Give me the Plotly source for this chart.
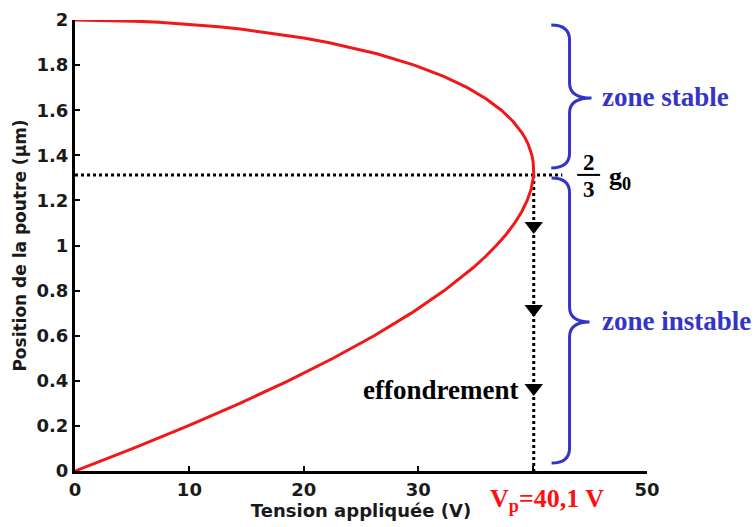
import plotly.graph_objects as go

# Curve: beam position (µm) vs applied voltage (V)
position_um = [0.0, 0.05, 0.1, 0.2, 0.3, 0.4, 0.5, 0.6, 0.7, 0.8, 0.9, 0.95, 1.0, 1.05, 1.1, 1.15,
               1.2, 1.25, 1.28, 1.3, 1.32, 1.35, 1.37, 1.4, 1.42, 1.45, 1.48, 1.5, 1.55, 1.6, 1.65,
               1.7, 1.75, 1.8, 1.85, 1.9, 1.92, 1.95, 1.96, 1.97, 1.98, 1.99, 1.995, 2.0]
voltage_v = [0.0, 2.57, 5.08, 9.88, 14.41, 18.64, 22.56, 26.15, 29.40, 32.28, 34.77, 35.86, 36.83,
             37.70, 38.44, 39.05, 39.53, 39.87, 40.01, 40.06, 40.10, 40.09, 40.05, 39.94, 39.83,
             39.61, 39.31, 39.07, 38.30, 37.27, 35.96, 34.30, 32.23, 29.65, 26.39, 22.13, 20.00,
             16.06, 14.44, 12.57, 10.31, 7.33, 5.20, 0.0]

pull_in_voltage = 40.1
pull_in_position = 1.313
collapse_arrow_positions = [1.087, 0.718, 0.368]

x_tick_vals = [0, 10, 20, 30, 40, 50]
x_tick_text = ["0", "10", "20", "30", " ", "50"]
y_tick_vals = [0, 0.2, 0.4, 0.6, 0.8, 1.0, 1.2, 1.4, 1.6, 1.8, 2.0]
y_tick_text = ["0", "0.2", "0.4", "0.6", "0.8", "1", "1.2", "1.4", "1.6", "1.8", "2"]

SERIF = "Liberation Serif"
SANS = "DejaVu Sans"
BLUE = "#3434c8"

fig = go.Figure()

# dotted horizontal line at 2/3 g0
fig.add_trace(go.Scatter(x=[0, 42.6], y=[pull_in_position, pull_in_position], mode="lines",
                         line=dict(color="black", width=3, dash="3px,3px"),
                         hoverinfo="skip", showlegend=False, cliponaxis=False))
# dotted vertical collapse line
fig.add_trace(go.Scatter(x=[pull_in_voltage, pull_in_voltage], y=[pull_in_position, 0], mode="lines",
                         line=dict(color="black", width=3, dash="3px,3px"),
                         hoverinfo="skip", showlegend=False))
# arrow heads
fig.add_trace(go.Scatter(x=[pull_in_voltage] * len(collapse_arrow_positions), y=collapse_arrow_positions,
                         mode="markers", marker=dict(symbol="triangle-down", size=16, color="black"),
                         hoverinfo="skip", showlegend=False))
# the curve
fig.add_trace(go.Scatter(x=voltage_v, y=position_um, mode="lines",
                         line=dict(color="#f01818", width=3),
                         showlegend=False, cliponaxis=False))

# braces
brace_stable = ("M 41.63 1.978 Q 43.23 1.978 43.23 1.911 L 43.23 1.721 Q 43.23 1.654 45.15 1.654 "
                "Q 43.23 1.654 43.23 1.588 L 43.23 1.410 Q 43.23 1.344 41.63 1.344")
brace_unstable = ("M 41.66 1.299 Q 43.23 1.299 43.23 1.233 L 43.23 0.727 Q 43.23 0.661 44.98 0.661 "
                  "Q 43.23 0.661 43.23 0.594 L 43.23 0.102 Q 43.23 0.035 41.66 0.035")
for p in (brace_stable, brace_unstable):
    fig.add_shape(type="path", path=p, xref="x", yref="y",
                  line=dict(color=BLUE, width=3), layer="above")

# fraction bar of 2/3
fig.add_shape(type="line", x0=43.9, x1=45.9, y0=pull_in_position, y1=pull_in_position,
              xref="x", yref="y", line=dict(color="black", width=2))

def ann(text, x, y, size, color="black", xanchor="center", yref="y"):
    fig.add_annotation(text=text, x=x, y=y, xref="x", yref=yref, showarrow=False,
                       xanchor=xanchor, yanchor="middle",
                       font=dict(family=SERIF, size=size, color=color, weight="bold"))

ann("zone stable", 45.9, 1.66, 27, BLUE, "left")
ann("zone instable", 45.9, 0.665, 27, BLUE, "left")
ann("effondrement", 38.9, 0.36, 27, "black", "right")
ann("2", 44.95, 1.37, 23)
ann("3", 44.95, 1.25, 23)
ann("g<sub>0</sub>", 46.5, 1.30, 26, "black", "left")
ann("V<sub>p</sub>=40,1 V", 41.3, -0.064, 26, "#ff1010", yref="paper")

fig.update_layout(
    width=756, height=527,
    margin=dict(l=75, r=109, t=20, b=56),
    paper_bgcolor="white", plot_bgcolor="white",
    xaxis=dict(range=[0, 50], tickvals=x_tick_vals, ticktext=x_tick_text, automargin=False,
               showline=True, linecolor="black", linewidth=3, ticks="inside", ticklen=5,
               tickwidth=2, tickcolor="black", showgrid=False, zeroline=False,
               tickfont=dict(family=SANS, size=18, color="#1a1a1a", weight="bold"),
               title=dict(text="Tension appliquée (V)", standoff=2,
                          font=dict(family=SANS, size=18, color="#1a1a1a", weight="bold"))),
    yaxis=dict(range=[0, 2], tickvals=y_tick_vals, ticktext=y_tick_text, automargin=False,
               showline=True, linecolor="black", linewidth=3, ticks="inside", ticklen=5,
               tickwidth=2, tickcolor="black", showgrid=False, zeroline=False,
               tickfont=dict(family=SANS, size=18, color="#1a1a1a", weight="bold"),
               title=dict(text="Position de la poutre (µm)", standoff=6,
                          font=dict(family=SANS, size=17, color="#1a1a1a", weight="bold"))),
)

fig.write_html("out.html", config={"displayModeBar": False},
               post_script="document.body.style.margin='0';document.body.style.overflow='hidden';")
